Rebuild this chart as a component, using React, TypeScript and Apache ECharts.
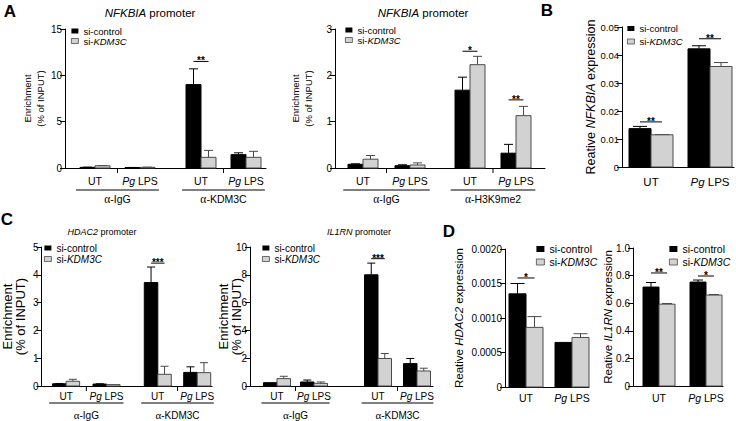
import React, { useEffect, useRef } from 'react';
import * as echarts from 'echarts';

const FONT = '"Liberation Sans", Arial, Helvetica, sans-serif';
const SERIF = '"Liberation Serif", "Times New Roman", serif';
const GRAY = '#d2d2d2';
const EDGE = '#4a4a4a';

// ---------- categories ----------
const chipCats = ['UT', 'Pg LPS', 'UT', 'Pg LPS'];
const exprCats = ['UT', 'Pg LPS'];
const seriesNames = ['si-control', 'si-KDM3C'];

// ---------- Panel A (left): NFKBIA promoter, KDM3C ChIP ----------
const a1Groups = ['α-IgG', 'α-KDM3C'];
const a1Ctrl = [0.07, 0.05, 9.0, 1.44];
const a1CtrlErr = [0.02, 0.01, 1.7, 0.2];
const a1Kd = [0.24, 0.07, 1.15, 1.15];
const a1KdErr = [0.03, 0.02, 0.75, 0.65];
const a1SigAt = [2];
const a1SigY = [11.5];
const a1SigMark = ['**'];
const a1YTicks = [0, 15, 5];

// ---------- Panel A (right): NFKBIA promoter, H3K9me2 ChIP ----------
const a2Groups = ['α-IgG', 'α-H3K9me2'];
const a2Ctrl = [0.08, 0.05, 1.68, 0.32];
const a2CtrlErr = [0.01, 0.02, 0.28, 0.19];
const a2Kd = [0.19, 0.065, 2.23, 1.13];
const a2KdErr = [0.08, 0.045, 0.18, 0.2];
const a2SigAt = [2, 3];
const a2SigY = [2.52, 1.47];
const a2SigMark = ['*', '**'];
const a2YTicks = [0, 3, 1];

// ---------- Panel B: NFKBIA expression ----------
const bCtrl = [0.0137, 0.0422];
const bCtrlErr = [0.0008, 0.0011];
const bKd = [0.0115, 0.0359];
const bKdErr = [0.0001, 0.0014];
const bSigAt = [0, 1];
const bSigY = [0.0161, 0.0458];
const bSigMark = ['**', '**'];
const bYTicks = [0, 0.05, 0.01];

// ---------- Panel C (left): HDAC2 promoter ----------
const c1Groups = ['α-IgG', 'α-KDM3C'];
const c1Ctrl = [0.08, 0.07, 3.72, 0.49];
const c1CtrlErr = [0.01, 0.01, 0.56, 0.2];
const c1Kd = [0.17, 0.05, 0.42, 0.48];
const c1KdErr = [0.07, 0.0, 0.29, 0.36];
const c1SigAt = [2];
const c1SigY = [4.42];
const c1SigMark = ['***'];
const c1YTicks = [0, 5, 1];

// ---------- Panel C (right): IL1RN promoter ----------
const c2Groups = ['α-IgG', 'α-KDM3C'];
const c2Ctrl = [0.24, 0.29, 8.0, 1.61];
const c2CtrlErr = [0.0, 0.14, 0.84, 0.37];
const c2Kd = [0.53, 0.19, 1.98, 1.08];
const c2KdErr = [0.17, 0.1, 0.36, 0.2];
const c2SigAt = [2];
const c2SigY = [9.16];
const c2SigMark = ['***'];
const c2YTicks = [0, 10, 2];

// ---------- Panel D (left): HDAC2 expression ----------
const d1Ctrl = [0.00135, 0.000646];
const d1CtrlErr = [0.00015, 0.0];
const d1Kd = [0.000864, 0.000718];
const d1KdErr = [0.000156, 0.000054];
const d1SigAt = [0];
const d1SigY = [0.00158];
const d1SigMark = ['*'];
const d1YTicks = [0, 0.002, 0.0005];

// ---------- Panel D (right): IL1RN expression ----------
const d2Ctrl = [0.717, 0.753];
const d2CtrlErr = [0.033, 0.015];
const d2Kd = [0.593, 0.659];
const d2KdErr = [0.005, 0.004];
const d2SigAt = [0, 1];
const d2SigY = [0.819, 0.797];
const d2SigMark = ['**', '*'];
const d2YTicks = [0, 1, 0.2];

type Panel = {
  grid: { left: number; top: number; width: number; height: number };
  slots: number[];
  bw: number;
  cap: number;
  cats: string[];
  groups?: string[];
  ctrl: number[];
  ctrlErr: number[];
  kd: number[];
  kdErr: number[];
  sigAt: number[];
  sigY: number[];
  sigMark: string[];
  yTicks: number[];
  yFmt: (v: number) => string;
  yLabelSize: number;
  yName: string;
  yNameSize: number;
  yNameGap: number;
  yNameLH: number;
  catSize: number;
  tickDy: number;
  gLineDy?: number;
  gLabelDy?: number;
  legend: { left: number; top: number; size: number; lh: number; iw: number; ih: number };
};

const intFmt = (v: number) => String(v);

const panels: Panel[] = [
  {
    grid: { left: 65, top: 29, width: 201, height: 139 },
    slots: [30, 75, 136, 181], bw: 15, cap: 4.5,
    cats: chipCats, groups: a1Groups,
    ctrl: a1Ctrl, ctrlErr: a1CtrlErr, kd: a1Kd, kdErr: a1KdErr,
    sigAt: a1SigAt, sigY: a1SigY, sigMark: a1SigMark,
    yTicks: a1YTicks, yFmt: intFmt, yLabelSize: 10,
    yName: 'Enrichment\n(% of INPUT)', yNameSize: 9.5, yNameGap: 18.5, yNameLH: 13,
    catSize: 10.5, tickDy: 13, gLineDy: 22, gLabelDy: 31,
    legend: { left: 71, top: 26, size: 9.5, lh: 10, iw: 7, ih: 5 },
  },
  {
    grid: { left: 335, top: 29, width: 210, height: 139 },
    slots: [28, 75, 135, 181], bw: 15, cap: 4.5,
    cats: chipCats, groups: a2Groups,
    ctrl: a2Ctrl, ctrlErr: a2CtrlErr, kd: a2Kd, kdErr: a2KdErr,
    sigAt: a2SigAt, sigY: a2SigY, sigMark: a2SigMark,
    yTicks: a2YTicks, yFmt: intFmt, yLabelSize: 10,
    yName: 'Enrichment\n(% of INPUT)', yNameSize: 9.5, yNameGap: 20, yNameLH: 13,
    catSize: 10.5, tickDy: 13, gLineDy: 22, gLabelDy: 31,
    legend: { left: 345, top: 25, size: 9.5, lh: 10, iw: 7, ih: 5 },
  },
  {
    grid: { left: 622, top: 27, width: 112, height: 140 },
    slots: [29, 88], bw: 22, cap: 7,
    cats: exprCats,
    ctrl: bCtrl, ctrlErr: bCtrlErr, kd: bKd, kdErr: bKdErr,
    sigAt: bSigAt, sigY: bSigY, sigMark: bSigMark,
    yTicks: bYTicks, yFmt: (v) => (v === 0 ? '0' : v.toFixed(2)), yLabelSize: 9.5,
    yName: 'Reative {i|NFKBIA} expression', yNameSize: 12.5, yNameGap: 24, yNameLH: 14,
    catSize: 11.5, tickDy: 15,
    legend: { left: 627, top: 22, size: 9.5, lh: 13, iw: 7, ih: 5 },
  },
  {
    grid: { left: 39, top: 247, width: 173, height: 139 },
    slots: [25, 66, 118, 158], bw: 13.5, cap: 4,
    cats: chipCats, groups: c1Groups,
    ctrl: c1Ctrl, ctrlErr: c1CtrlErr, kd: c1Kd, kdErr: c1KdErr,
    sigAt: c1SigAt, sigY: c1SigY, sigMark: c1SigMark,
    yTicks: c1YTicks, yFmt: intFmt, yLabelSize: 10,
    yName: 'Enrichment\n(% of INPUT)', yNameSize: 13, yNameGap: 14.5, yNameLH: 13,
    catSize: 10, tickDy: 10, gLineDy: 17, gLabelDy: 29,
    legend: { left: 44, top: 242.5, size: 10, lh: 11, iw: 7, ih: 5 },
  },
  {
    grid: { left: 250, top: 247, width: 183, height: 139 },
    slots: [27, 64, 128, 167], bw: 13.5, cap: 4,
    cats: chipCats, groups: c2Groups,
    ctrl: c2Ctrl, ctrlErr: c2CtrlErr, kd: c2Kd, kdErr: c2KdErr,
    sigAt: c2SigAt, sigY: c2SigY, sigMark: c2SigMark,
    yTicks: c2YTicks, yFmt: intFmt, yLabelSize: 10,
    yName: 'Enrichment\n(% of INPUT)', yNameSize: 13, yNameGap: 7, yNameLH: 13,
    catSize: 10, tickDy: 10, gLineDy: 17, gLabelDy: 29,
    legend: { left: 262, top: 242.5, size: 10, lh: 11, iw: 7, ih: 5 },
  },
  {
    grid: { left: 505, top: 249, width: 84, height: 138 },
    slots: [21, 67], bw: 17, cap: 7,
    cats: exprCats,
    ctrl: d1Ctrl, ctrlErr: d1CtrlErr, kd: d1Kd, kdErr: d1KdErr,
    sigAt: d1SigAt, sigY: d1SigY, sigMark: d1SigMark,
    yTicks: d1YTicks, yFmt: (v) => (v === 0 ? '0' : v.toFixed(4)), yLabelSize: 10,
    yName: 'Reative {i|HDAC2} expression', yNameSize: 11.5, yNameGap: 40, yNameLH: 13,
    catSize: 10.5, tickDy: 11,
    legend: { left: 536, top: 242.5, size: 10.5, lh: 13, iw: 8, ih: 6 },
  },
  {
    grid: { left: 633, top: 248, width: 90, height: 138 },
    slots: [26, 73], bw: 16, cap: 5,
    cats: exprCats,
    ctrl: d2Ctrl, ctrlErr: d2CtrlErr, kd: d2Kd, kdErr: d2KdErr,
    sigAt: d2SigAt, sigY: d2SigY, sigMark: d2SigMark,
    yTicks: d2YTicks, yFmt: (v) => (v === 0 ? '0' : v.toFixed(1)), yLabelSize: 10,
    yName: 'Reative {i|IL1RN} expression', yNameSize: 11.5, yNameGap: 19, yNameLH: 13,
    catSize: 10.5, tickDy: 12,
    legend: { left: 669, top: 242.5, size: 10.5, lh: 13, iw: 8, ih: 6 },
  },
];

const lineEl = (x1: number, y1: number, x2: number, y2: number, stroke: string, w = 1) => ({
  type: 'line',
  shape: { x1, y1, x2, y2 },
  style: { stroke, lineWidth: w },
});

const richText = (size: number) => ({
  i: { fontStyle: 'italic', fontSize: size, fontFamily: FONT, fill: '#000', color: '#000' },
  g: { fontFamily: SERIF, fontSize: size + 1, fill: '#000', color: '#000' },
});

const textEl = (x: number, y: number, text: string, size: number) => ({
  type: 'text',
  x,
  y,
  style: {
    text,
    fontSize: size,
    fontFamily: FONT,
    fill: '#000',
    align: 'center',
    verticalAlign: 'middle',
    rich: richText(size),
  },
});

const fmtCat = (c: string) => c.replace('Pg', '{i|Pg}');
const fmtGroup = (g: string) => g.replace('α', '{g|α}');

function barItem(p: Panel, side: number, fill: string, stroke: string) {
  return (_params: any, api: any) => {
    const x = api.value(0) as number;
    const v = api.value(1) as number;
    const e = api.value(2) as number;
    const base = api.coord([x, 0]);
    const top = api.coord([x, v]);
    const et = api.coord([x, v + e]);
    const left = side < 0 ? base[0] - p.bw : base[0];
    const cx = left + p.bw / 2;
    const children: any[] = [];
    if (e > 0) {
      children.push(lineEl(cx, top[1], cx, et[1], stroke));
      children.push(lineEl(cx - p.cap, et[1], cx + p.cap, et[1], stroke));
    }
    children.push({
      type: 'rect',
      shape: { x: left, y: top[1], width: p.bw, height: base[1] - top[1] },
      style: { fill, stroke, lineWidth: 1 },
    });
    return { type: 'group', children };
  };
}

function buildOption() {
  const grid: any[] = [];
  const xAxis: any[] = [];
  const yAxis: any[] = [];
  const series: any[] = [];
  const legend: any[] = [];

  panels.forEach((p, i) => {
    grid.push({ ...p.grid, containLabel: false });
    xAxis.push({
      type: 'value',
      gridIndex: i,
      min: 0,
      max: p.grid.width,
      axisLine: { show: true, onZero: true, lineStyle: { color: '#000', width: 1 } },
      axisTick: { show: false },
      axisLabel: { show: false },
      splitLine: { show: false },
    });
    yAxis.push({
      type: 'value',
      gridIndex: i,
      min: p.yTicks[0],
      max: p.yTicks[1],
      interval: p.yTicks[2],
      axisLine: { show: true, lineStyle: { color: '#000', width: 1 } },
      axisTick: { show: true, length: 5, lineStyle: { color: '#000', width: 1 } },
      axisLabel: {
        fontSize: p.yLabelSize,
        fontFamily: FONT,
        color: '#000',
        margin: 3,
        formatter: p.yFmt,
      },
      splitLine: { show: false },
      name: p.yName,
      nameLocation: 'middle',
      nameRotate: 90,
      nameGap: p.yNameGap,
      nameMoveOverlap: false,
      nameTextStyle: {
        fontSize: p.yNameSize,
        fontFamily: FONT,
        color: '#000',
        lineHeight: p.yNameLH,
        align: 'center',
        rich: {
          i: { fontStyle: 'italic', fontSize: p.yNameSize, fontFamily: FONT, color: '#000', lineHeight: p.yNameLH },
        },
      },
    });

    series.push({
      type: 'custom',
      name: seriesNames[0],
      xAxisIndex: i,
      yAxisIndex: i,
      silent: true,
      itemStyle: { color: '#000' },
      data: p.ctrl.map((v, k) => [p.slots[k], v, p.ctrlErr[k]]),
      renderItem: barItem(p, -1, '#000', '#000'),
    });
    series.push({
      type: 'custom',
      name: seriesNames[1],
      xAxisIndex: i,
      yAxisIndex: i,
      silent: true,
      itemStyle: { color: GRAY, borderColor: EDGE },
      data: p.kd.map((v, k) => [p.slots[k], v, p.kdErr[k]]),
      renderItem: barItem(p, 1, GRAY, EDGE),
    });
    // category labels, group lines
    series.push({
      type: 'custom',
      name: 'labels' + i,
      xAxisIndex: i,
      yAxisIndex: i,
      silent: true,
      itemStyle: { color: '#000' },
      data: p.cats.map((_c, k) => [p.slots[k], 0]),
      renderItem: (params: any, api: any) => {
        const k = params.dataIndex;
        const pt = api.coord([api.value(0), 0]);
        const kids: any[] = [textEl(pt[0], pt[1] + p.tickDy, fmtCat(p.cats[k]), p.catSize)];
        if (p.groups) {
          if (k % 2 === 0) {
            const q = api.coord([p.slots[k + 1], 0]);
            const mid = (pt[0] + q[0]) / 2;
            kids.push(lineEl(mid, pt[1], mid, pt[1] + 5, '#000'));
          } else {
            const q = api.coord([p.slots[k - 1], 0]);
            const half = (pt[0] - q[0]) * 0.42;
            kids.push(lineEl(q[0] - half, pt[1] + (p.gLineDy || 0), pt[0] + half, pt[1] + (p.gLineDy || 0), '#000'));
            kids.push(textEl((pt[0] + q[0]) / 2, pt[1] + (p.gLabelDy || 0), fmtGroup(p.groups[(k - 1) / 2]), p.catSize));
          }
        }
        return { type: 'group', children: kids };
      },
    });
    // significance
    series.push({
      type: 'custom',
      name: 'sig' + i,
      xAxisIndex: i,
      yAxisIndex: i,
      silent: true,
      itemStyle: { color: '#000' },
      data: p.sigAt.map((a, k) => [p.slots[a], p.sigY[k]]),
      renderItem: (params: any, api: any) => {
        const k = params.dataIndex;
        const pt = api.coord([api.value(0), api.value(1)]);
        return {
          type: 'group',
          children: [
            lineEl(pt[0] - p.bw / 2, pt[1], pt[0] + p.bw / 2, pt[1], '#000', 1),
            {
              type: 'text',
              x: pt[0],
              y: pt[1] - 0.5,
              style: {
                text: p.sigMark[k],
                fontSize: 10,
                fontWeight: 'bold',
                fontFamily: FONT,
                fill: '#000',
                align: 'center',
                verticalAlign: 'middle',
              },
            },
          ],
        };
      },
    });

    legend.push({
      show: true,
      orient: 'vertical',
      left: p.legend.left,
      top: p.legend.top,
      padding: 0,
      itemGap: 0,
      itemWidth: p.legend.iw,
      itemHeight: p.legend.ih,
      icon: 'rect',
      selectedMode: false,
      data: [
        { name: seriesNames[0], itemStyle: { color: '#000', borderWidth: 0 } },
        { name: seriesNames[1], itemStyle: { color: GRAY, borderColor: EDGE, borderWidth: 0.8 } },
      ],
      formatter: (n: string) => (n === 'si-KDM3C' ? 'si-{i|KDM3C}' : n),
      textStyle: {
        fontSize: p.legend.size,
        fontFamily: FONT,
        color: '#000',
        lineHeight: p.legend.lh,
        rich: {
          i: { fontStyle: 'italic', fontSize: p.legend.size, fontFamily: FONT, color: '#000', lineHeight: p.legend.lh },
        },
      },
    });
  });

  const gText = (x: number, y: number, text: string, size: number, bold = false) => ({
    type: 'text',
    x,
    y,
    silent: true,
    style: {
      text,
      fontSize: size,
      fontFamily: FONT,
      fontWeight: bold ? 'bold' : 'normal',
      fill: '#000',
      align: 'center',
      verticalAlign: 'middle',
      rich: { i: { fontStyle: 'italic', fontSize: size, fontFamily: FONT, fill: '#000' } },
    },
  });

  const graphic = [
    gText(150, 13, '{i|NFKBIA} promoter', 11.5),
    gText(423, 13, '{i|NFKBIA} promoter', 11.5),
    gText(102, 232, '{i|HDAC2} promoter', 9),
    gText(359, 232, '{i|IL1RN} promoter', 9),
    gText(10, 11, 'A', 17, true),
    gText(547, 10, 'B', 17, true),
    gText(7, 219, 'C', 17, true),
    gText(449, 231, 'D', 17, true),
  ];

  return {
    animation: false,
    backgroundColor: '#fff',
    grid,
    xAxis,
    yAxis,
    series,
    legend,
    graphic,
  };
}

export default function App() {
  const ref = useRef<HTMLDivElement>(null);
  useEffect(() => {
    document.body.style.margin = '0';
    if (!ref.current) return;
    const chart = echarts.init(ref.current, undefined, { renderer: 'svg' });
    chart.setOption(buildOption() as any);
    return () => chart.dispose();
  }, []);
  return (
    <div
      ref={ref}
      style={{ position: 'fixed', left: 0, top: 0, width: 736, height: 421, background: '#fff' }}
    />
  );
}
